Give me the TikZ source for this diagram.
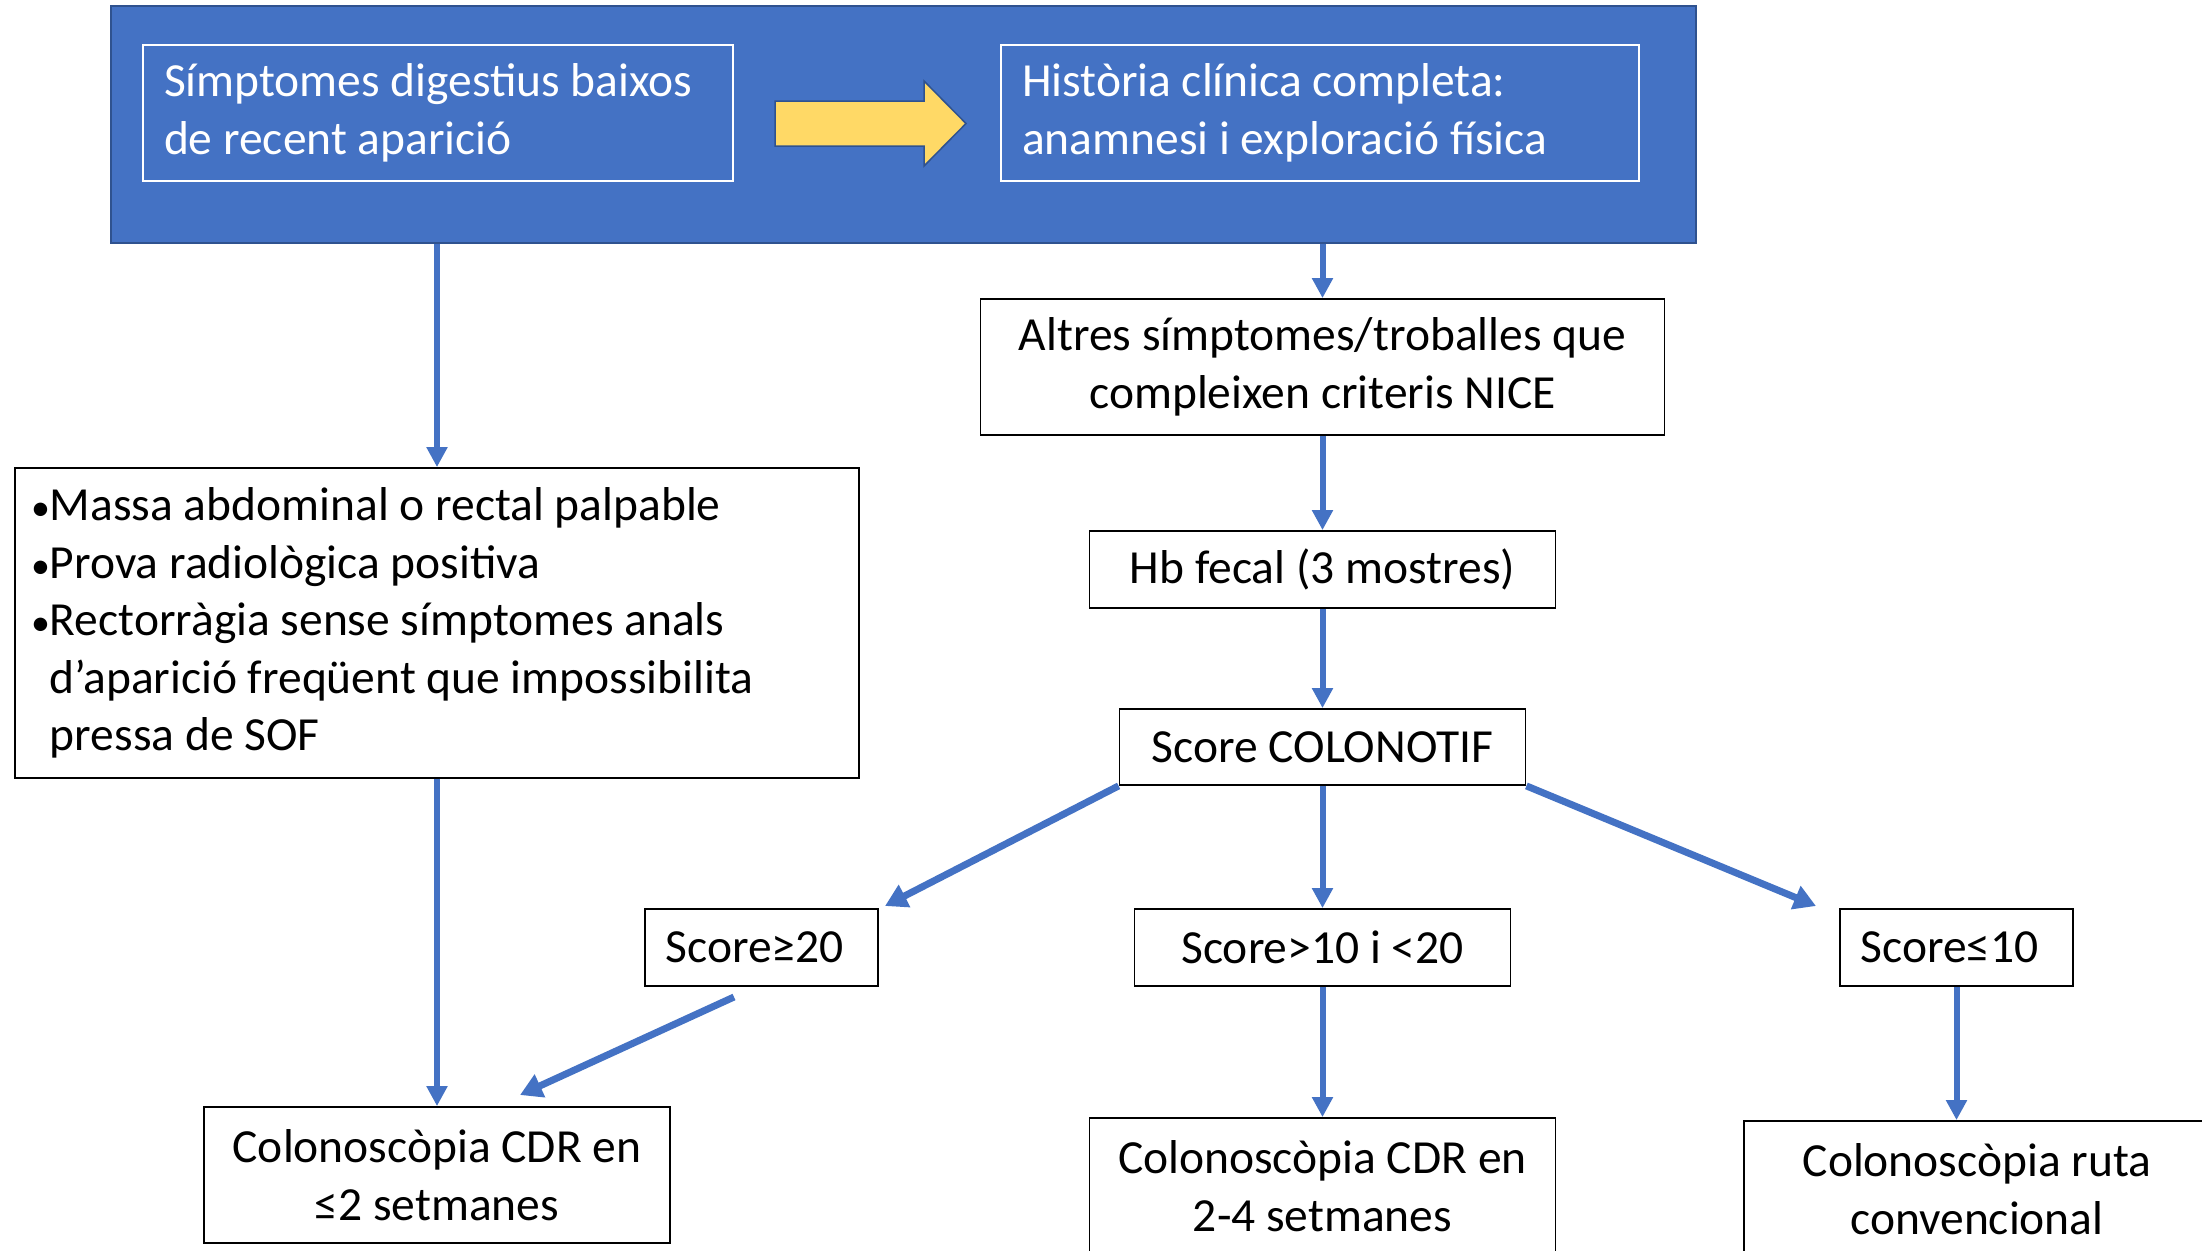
\documentclass[tikz,border=0pt]{standalone}
\usepackage{fontspec}
\setmainfont{Carlito}
\usetikzlibrary{arrows.meta}
\definecolor{pblue}{HTML}{4472C4}
\definecolor{pdark}{HTML}{2F528F}
\definecolor{pyellow}{HTML}{FFD966}
\newcommand{\mybul}{{\fontsize{38}{38}\selectfont\textbullet}}
\begin{document}
\begin{tikzpicture}[x=1pt,y=-1pt,
  txt/.style={font=\fontsize{47.5}{57.5}\selectfont},
  box/.style={txt, draw=black, line width=1.8pt, fill=white, inner sep=0pt, align=center},
  wbox/.style={txt, draw=white, line width=1.8pt, inner xsep=21pt, inner ysep=0pt, align=left, text=white},
  conn/.style={draw=pblue, line width=6pt, -{Triangle[width=20pt,length=20pt]}},
  dconn/.style={conn, line width=7pt, -{Triangle[width=24pt,length=22pt]}}]
\useasboundingbox (0,0) rectangle (2202,1250);
\fill[white] (0,0) rectangle (2202,1250);
% top blue panel
\node[draw=pdark, fill=pblue, line width=2.5pt, minimum width=1585pt, minimum height=237pt, inner sep=0pt] (top) at (903.5,124.5) {};
\node[wbox, text width=548pt, minimum height=136pt] (sym) at (438,113) {\spaceskip=0pt\xspaceskip=0pt Símptomes digestius baixos\\de recent aparició};
\node[wbox, text width=596pt, minimum height=136pt] (hist) at (1320,113) {\spaceskip=0pt\xspaceskip=0pt Història clínica completa:\\anamnesi i exploració física};
\draw[fill=pyellow, draw=pdark, line width=1.5pt] (775,101) -- (924,101) -- (924,81) -- (966,123.5) -- (924,166) -- (924,146) -- (775,146) -- cycle;
% boxes
\node[box, minimum width=684pt, minimum height=136pt] (nice) at (1322.5,367) {Altres símptomes/troballes que\\compleixen criteris NICE};
\node[box, minimum width=466pt, minimum height=77pt] (hb) at (1322.5,569.5) {Hb fecal (3 mostres)};
\node[box, minimum width=406pt, minimum height=76pt] (col) at (1322.5,747) {Score COLONOTIF};
\node[box, inner xsep=16pt, text width=812pt, align=left, minimum height=310pt] (left) at (437,623) {\spaceskip=0pt\xspaceskip=0pt \mybul Massa abdominal o rectal palpable\\\mybul Prova radiològica positiva\\\mybul Rectorràgia sense símptomes anals\\\hphantom{\mybul}d’aparició freqüent que impossibilita\\\hphantom{\mybul}pressa de SOF};
\node[box, minimum width=233pt, minimum height=77pt] (s20) at (761.5,947.5) {Score≥20\hspace*{14pt}};
\node[box, minimum width=376pt, minimum height=77pt] (s1020) at (1322.5,947.5) {Score>10 i <20};
\node[box, minimum width=233pt, minimum height=77pt] (s10) at (1956.5,947.5) {Score≤10\hspace*{14pt}};
\node[box, minimum width=466pt, minimum height=136pt] (c2) at (437,1175) {Colonoscòpia CDR en\\≤2 setmanes};
\node[box, minimum width=466pt, minimum height=136pt] (c24) at (1322.5,1186) {Colonoscòpia CDR en\\2-4 setmanes};
\node[box, minimum width=466pt, minimum height=136pt] (cruta) at (1977,1189) {Colonoscòpia ruta\\convencional};
% connector ends
\coordinate (t20) at (885,906);
\coordinate (t10) at (1816,906);
\coordinate (s20out) at (734,997);
\coordinate (c2in) at (520,1095);
% connectors
\draw[conn] (top.south -| left.north) -- (left.north);
\draw[conn] (top.south -| nice.north) -- (nice.north);
\draw[conn] (nice) -- (hb);
\draw[conn] (hb) -- (col);
\draw[conn] (col) -- (s1020);
\draw[conn] (s1020) -- (c24);
\draw[dconn] (col.south west) -- (t20);
\draw[dconn] (col.south east) -- (t10);
\draw[dconn] (s20out) -- (c2in);
\draw[conn] (left) -- (c2);
\draw[conn] (s10.south) -- (s10.south |- cruta.north);
\end{tikzpicture}
\end{document}
